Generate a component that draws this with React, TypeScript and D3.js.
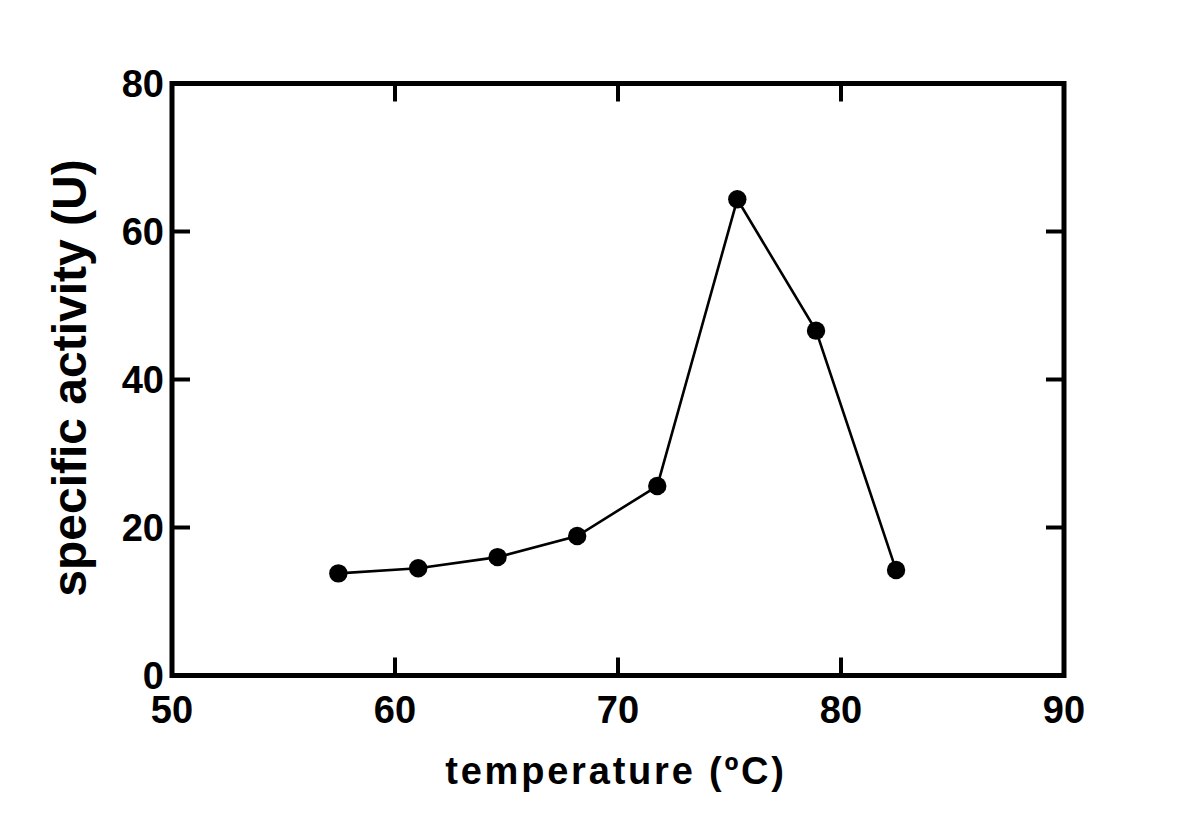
import React from "react";
import * as d3 from "d3";

const temperatures = [57.46, 61.04, 64.6, 68.17, 71.76, 75.35, 78.88, 82.47];
const activity = [13.8, 14.5, 16.0, 18.85, 25.6, 64.35, 46.6, 14.25];
const xTicks = [50, 60, 70, 80, 90];
const yTicks = [0, 20, 40, 60, 80];
const xLabel = "temperature (\u00baC)";
const yLabel = "specific activity (U)";

const W = 1200, H = 835;
const L = 172, R = 1064, T = 83.5, B = 675.5;
const FONT = "'Liberation Sans', Arial, sans-serif";

export default function App() {
  const x = d3.scaleLinear().domain([50, 90]).range([L, R]);
  const y = d3.scaleLinear().domain([0, 80]).range([B, T]);
  const pts = temperatures.map((t, i) => [x(t), y(activity[i])] as [number, number]);
  const line = d3.line()(pts) || "";
  const tickLen = 18;
  return (
    <svg width={W} height={H} style={{ position: "absolute", left: 0, top: 0, background: "#fff" }}>
      <rect width={W} height={H} fill="#fff" />
      <path d={line} fill="none" stroke="#000" strokeWidth={2.6} />
      {pts.map((p, i) => (
        <circle key={i} cx={p[0]} cy={p[1]} r={9.2} fill="#000" />
      ))}
      {xTicks.slice(1, -1).map((t) => (
        <g key={"xt" + t}>
          <line x1={x(t)} x2={x(t)} y1={B} y2={B - tickLen} stroke="#000" strokeWidth={4} />
          <line x1={x(t)} x2={x(t)} y1={T} y2={T + tickLen} stroke="#000" strokeWidth={4} />
        </g>
      ))}
      {yTicks.slice(1, -1).map((t) => (
        <g key={"yt" + t}>
          <line x1={L} x2={L + tickLen} y1={y(t)} y2={y(t)} stroke="#000" strokeWidth={4} />
          <line x1={R} x2={R - tickLen} y1={y(t)} y2={y(t)} stroke="#000" strokeWidth={4} />
        </g>
      ))}
      <rect x={L} y={T} width={R - L} height={B - T} fill="none" stroke="#000" strokeWidth={5} />
      {xTicks.map((t) => (
        <text key={"xl" + t} x={x(t)} y={723} textAnchor="middle" fontFamily={FONT} fontWeight="bold" fontSize={38} fill="#000">
          {t}
        </text>
      ))}
      {yTicks.map((t) => (
        <text key={"yl" + t} x={164} y={y(t) + 13.5} textAnchor="end" fontFamily={FONT} fontWeight="bold" fontSize={38} fill="#000">
          {t}
        </text>
      ))}
      <text x={616} y={784} textAnchor="middle" fontFamily={FONT} fontWeight="bold" fontSize={38} letterSpacing={2.8} fill="#000">
        {xLabel}
      </text>
      <text transform={`translate(86,378) rotate(-90)`} textAnchor="middle" fontFamily={FONT} fontWeight="bold" fontSize={48} fill="#000">
        {yLabel}
      </text>
    </svg>
  );
}
